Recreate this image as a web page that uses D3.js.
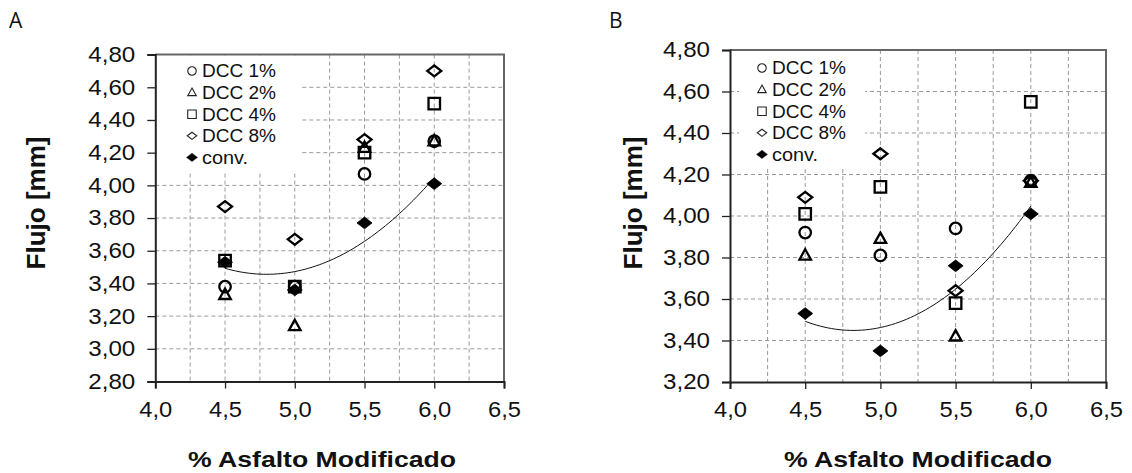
<!DOCTYPE html>
<html>
<head>
<meta charset="utf-8">
<script src="https://cdn.jsdelivr.net/npm/d3@7"></script>
<style>
  body { margin: 0; background: #fff; }
  svg text { font-family: "Liberation Sans", Arial, sans-serif; fill: #111; }
</style>
</head>
<body>
<svg id="chart" width="1132" height="473"></svg>
<script>
// % asfalto modificado (x values shared by every series)
const xCats = [4.5, 5.0, 5.5, 6.0];
const seriesNames = ["DCC 1%", "DCC 2%", "DCC 4%", "DCC 8%", "conv."];

// panel A - flujo [mm]
const dcc1A = [3.38, 3.38, 4.07, 4.27];
const dcc2A = [3.33, 3.14, 4.23, 4.27];
const dcc4A = [3.54, 3.38, 4.20, 4.50];
const dcc8A = [3.87, 3.67, 4.28, 4.70];
const convA = [3.53, 3.36, 3.77, 4.01];

// panel B - flujo [mm]
const dcc1B = [3.92, 3.81, 3.94, 4.17];
const dcc2B = [3.81, 3.89, 3.42, 4.16];
const dcc4B = [4.01, 4.14, 3.58, 4.55];
const dcc8B = [4.09, 4.30, 3.64, 4.17];
const convB = [3.53, 3.35, 3.76, 4.01];

const xTicksMajor = [4.0, 4.5, 5.0, 5.5, 6.0, 6.5];
const xGrid = [4.25, 4.5, 4.75, 5.0, 5.25, 5.5, 5.75, 6.0, 6.25];
const yTicksA = [2.8, 3.0, 3.2, 3.4, 3.6, 3.8, 4.0, 4.2, 4.4, 4.6, 4.8];
const yTicksB = [3.2, 3.4, 3.6, 3.8, 4.0, 4.2, 4.4, 4.6, 4.8];

const locale = d3.formatLocale({decimal: ",", thousands: ".", grouping: [3], currency: ["", ""]});
const fmtY = locale.format(".2f");
const fmtX = locale.format(".1f");

const svg = d3.select("#chart");

// marker paths centred on 0,0
const shapes = {
  circle: s => { const r = s / 2; return `M${-r},0A${r},${r} 0 1,0 ${r},0A${r},${r} 0 1,0 ${-r},0Z`; },
  triangle: s => { const h = s * 0.9; return `M0,${-h * 0.6}L${s / 2},${h * 0.4}L${-s / 2},${h * 0.4}Z`; },
  square: s => { const r = s / 2; return `M${-r},${-r}H${r}V${r}H${-r}Z`; },
  diamond: s => { const w = s / 2 + 0.5, h = s * 0.42; return `M0,${-h}L${w},0L0,${h}L${-w},0Z`; }
};
const seriesShape = ["circle", "triangle", "square", "diamond", "diamond"];
const seriesFill = ["none", "none", "none", "none", "#000"];

function quadFit(xs, ys) {
  const S = k => d3.sum(xs, x => Math.pow(x, k));
  const T = k => d3.sum(xs, (x, i) => Math.pow(x, k) * ys[i]);
  const M = [[S(0), S(1), S(2), T(0)], [S(1), S(2), S(3), T(1)], [S(2), S(3), S(4), T(2)]];
  for (let i = 0; i < 3; i++) {
    for (let j = i + 1; j < 3; j++) {
      const f = M[j][i] / M[i][i];
      for (let k = i; k < 4; k++) M[j][k] -= f * M[i][k];
    }
  }
  const c = [0, 0, 0];
  for (let i = 2; i >= 0; i--) {
    let s = M[i][3];
    for (let k = i + 1; k < 3; k++) s -= M[i][k] * c[k];
    c[i] = s / M[i][i];
  }
  return x => c[0] + c[1] * x + c[2] * x * x;
}

function drawPanel(p) {
  const g = svg.append("g");
  const x = d3.scaleLinear().domain([4.0, 6.5]).range([p.left, p.right]);
  const y = d3.scaleLinear().domain([p.yTicks[0], p.yTicks[p.yTicks.length - 1]]).range([p.bottom, p.top]);

  // panel letter
  g.append("text").attr("x", p.letterX).attr("y", 28)
    .style("font-family", "'Open Sans', sans-serif").style("font-size", "21px")
    .text(p.name);

  g.append("rect").attr("x", p.left).attr("y", p.top)
    .attr("width", p.right - p.left).attr("height", p.bottom - p.top).attr("fill", "#fff");

  // dashed grid
  g.append("g").selectAll("line").data(xGrid).join("line")
    .attr("x1", d => x(d)).attr("x2", d => x(d)).attr("y1", p.top).attr("y2", p.bottom)
    .attr("stroke", "#9a9a9a").attr("stroke-dasharray", "4,3");
  g.append("g").selectAll("line").data(p.yTicks.slice(1, -1)).join("line")
    .attr("x1", p.left).attr("x2", p.right).attr("y1", d => y(d)).attr("y2", d => y(d))
    .attr("stroke", "#9a9a9a").attr("stroke-dasharray", "4,3");

  // legend box hides the grid
  g.append("rect").attr("x", p.legBox[0]).attr("y", p.top + 1)
    .attr("width", p.legBox[1] - p.legBox[0]).attr("height", p.legBox[2] - p.top - 1).attr("fill", "#fff");

  // frame
  g.append("path")
    .attr("d", `M${p.left},${p.top}H${p.right}V${p.bottom}`)
    .attr("fill", "none").attr("stroke", "#666").attr("stroke-width", 2);

  // axes
  const yAxis = g.append("g").attr("transform", `translate(${p.left},0)`)
    .call(d3.axisLeft(y).tickValues(p.yTicks).tickFormat(fmtY).tickSize(8).tickPadding(12));
  yAxis.selectAll("text").style("font-size", "21.5px").attr("fill", "#111")
    .attr("textLength", 47).attr("lengthAdjust", "spacingAndGlyphs");
  const xAxis = g.append("g").attr("transform", `translate(0,${p.bottom})`)
    .call(d3.axisBottom(x).tickValues(xTicksMajor).tickFormat(fmtX).tickSize(7));
  xAxis.selectAll("text").style("font-size", "21.5px").attr("fill", "#111")
    .attr("y", 20).attr("dy", "0.71em")
    .attr("textLength", 33).attr("lengthAdjust", "spacingAndGlyphs");
  [yAxis, xAxis].forEach(a => {
    a.select(".domain").attr("stroke", "#222").attr("stroke-width", 2);
    a.selectAll(".tick line").attr("stroke", "#222").attr("stroke-width", 1.3);
  });

  // axis titles
  g.append("text").attr("x", p.xTitleX).attr("y", 467).attr("text-anchor", "middle")
    .style("font-size", "22.5px").style("font-weight", "bold")
    .attr("textLength", 268).attr("lengthAdjust", "spacingAndGlyphs")
    .text("% Asfalto Modificado");
  g.append("text")
    .attr("transform", `translate(${p.yTitleX},203) rotate(-90)`).attr("text-anchor", "middle")
    .style("font-size", "25px").style("font-weight", "bold")
    .attr("textLength", 133).attr("lengthAdjust", "spacingAndGlyphs")
    .text("Flujo [mm]");

  // trend line (2nd order fit of conv.)
  const fit = quadFit(xCats, p.values[4]);
  const line = d3.line().x(d => x(d)).y(d => y(fit(d)));
  g.append("path").datum(d3.range(4.5, 6.0001, 0.025))
    .attr("d", line).attr("fill", "none").attr("stroke", "#111").attr("stroke-width", 1);

  // markers
  p.values.forEach((vals, si) => {
    g.append("g").selectAll("path").data(vals).join("path")
      .attr("transform", (d, i) => `translate(${x(xCats[i])},${y(d)})`)
      .attr("d", shapes[seriesShape[si]](si === 4 ? 14 : (si === 3 ? 13 : 11.5)))
      .attr("fill", seriesFill[si]).attr("stroke", "#000")
      .attr("stroke-width", si === 4 ? 0.8 : 2.3).attr("stroke-linejoin", "miter");
  });

  // legend
  const leg = g.append("g");
  seriesNames.forEach((name, si) => {
    const cy = p.legY + si * 21.6;
    leg.append("path").attr("transform", `translate(${p.legX},${cy})`)
      .attr("d", shapes[seriesShape[si]](si === 4 ? 10 : 8.5))
      .attr("fill", seriesFill[si]).attr("stroke", "#222").attr("stroke-width", si === 4 ? 0.5 : 1.1);
    leg.append("text").attr("x", p.legX + 10).attr("y", cy + 6.3)
      .style("font-size", "17.5px")
      .attr("textLength", si === 4 ? 46 : 74).attr("lengthAdjust", "spacingAndGlyphs")
      .text(name);
  });
}

drawPanel({
  name: "A", letterX: 9,
  left: 155.3, right: 504, top: 54.6, bottom: 381.5,
  yTicks: yTicksA,
  values: [dcc1A, dcc2A, dcc4A, dcc8A, convA],
  legBox: [156.5, 302, 171], legX: 192, legY: 71,
  xTitleX: 322, yTitleX: 45
});
drawPanel({
  name: "B", letterX: 609,
  left: 730, right: 1106, top: 50, bottom: 382,
  yTicks: yTicksB,
  values: [dcc1B, dcc2B, dcc4B, dcc8B, convB],
  legBox: [739, 865, 167], legX: 762, legY: 68,
  xTitleX: 918, yTitleX: 642
});
</script>
</body>
</html>
